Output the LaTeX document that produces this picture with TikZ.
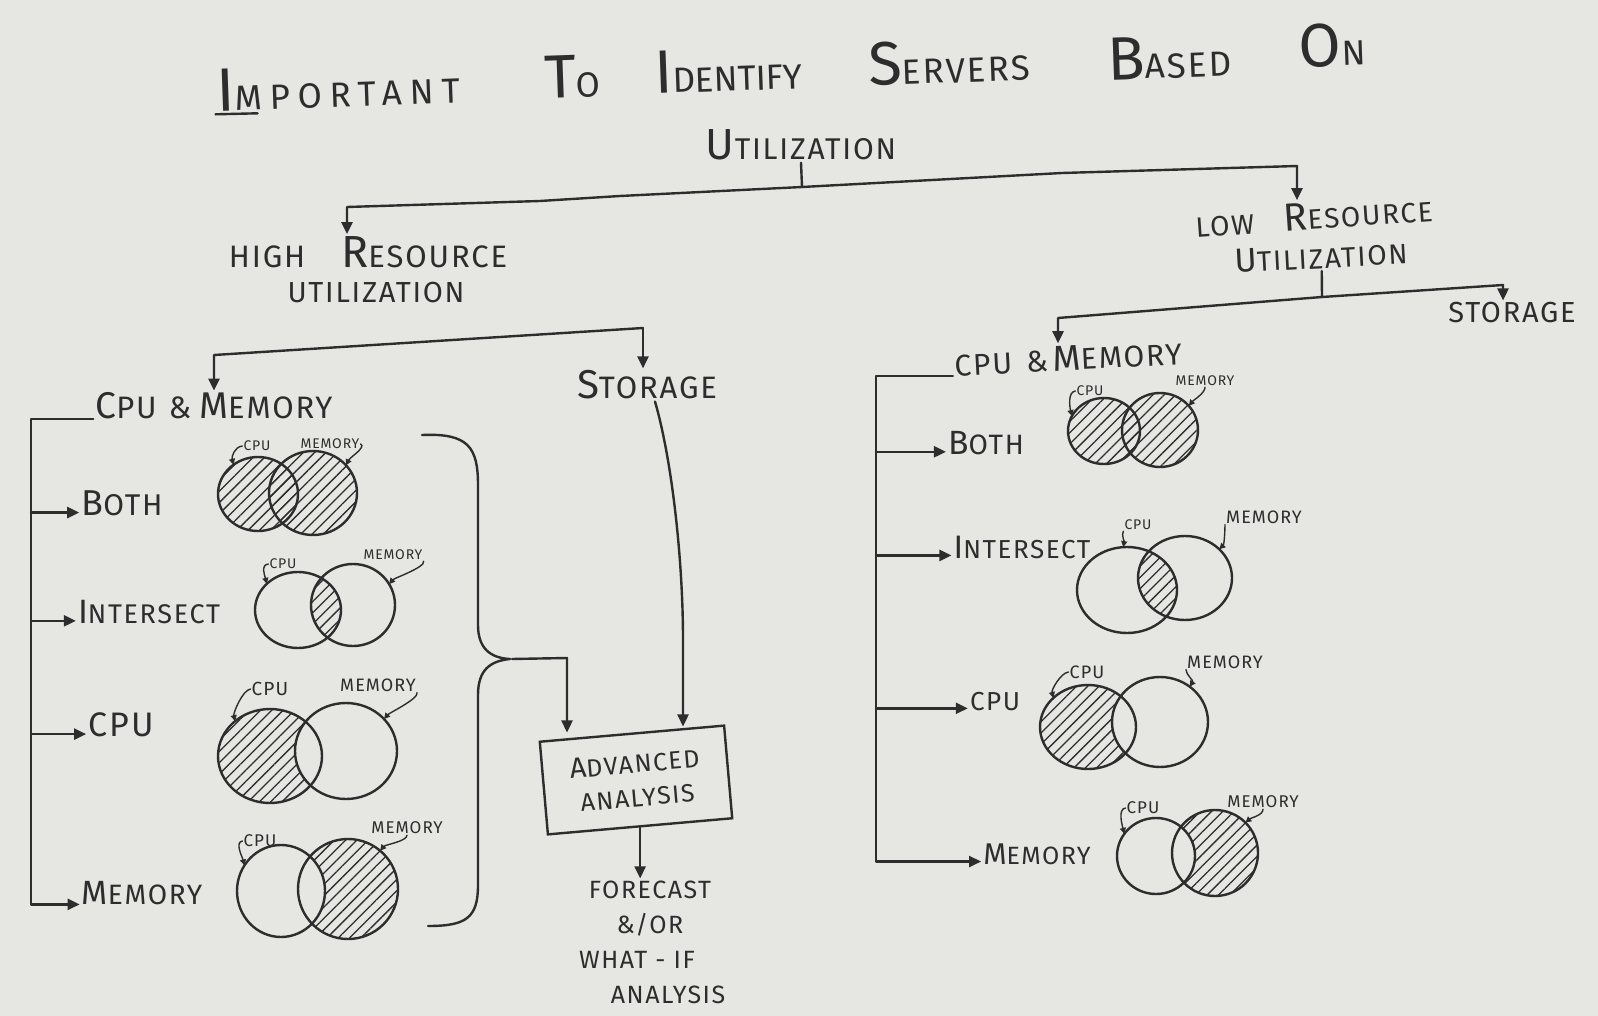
\documentclass[tikz,border=0pt]{standalone}
\usepackage{fontspec}
\setmainfont{Fira Sans}[LetterSpace=6]
\usepackage{graphicx}
\usetikzlibrary{arrows.meta,shapes.geometric,patterns.meta}
\definecolor{paper}{RGB}{230,230,227}
\definecolor{ink}{RGB}{45,45,45}
\newcommand\fsz[1]{\fontsize{#1}{#1}\selectfont}
\newcommand\bigL[2][1.3]{\scalebox{#1}{#2}}
\begin{document}
\begin{tikzpicture}[x=1pt,y=-1pt,
  ink/.style={draw=ink, line width=2.4pt, line cap=round, line join=round},
  arr/.style={ink, -{Triangle[length=12pt,width=11pt]}},
  sarr/.style={draw=ink, line width=1.4pt, line cap=round, -{Triangle[length=6pt,width=6pt]}},
  txt/.style={inner sep=2pt, text=ink},
  lab/.style={txt, inner sep=1pt},
  venn/.style={ellipse, draw=ink, line width=2.4pt, inner sep=0pt, outer sep=0pt},
  hatch/.style={pattern={Lines[angle=45,distance=8pt,line width=1.3pt]}, pattern color=ink},
]
\path[use as bounding box, fill=paper] (0,0) rectangle (1598,1016);

% ---------- title ----------
\node[txt, anchor=base, rotate=2, font={\fsz{35}\addfontfeature{LetterSpace=22}}] (tw1) at (339,107) {\bigL[1.75]{I}MPORTANT};
\node[txt, anchor=base, rotate=2, font=\fsz{35}] (tw2) at (573,98) {\bigL[1.75]{T}O};
\node[txt, anchor=base, rotate=2, font={\fsz{35}\addfontfeature{LetterSpace=0}}] (tw3) at (729,91) {\bigL[1.75]{I}DENTIFY};
\node[txt, anchor=base, rotate=2, font=\fsz{35}] (tw4) at (950,83) {\bigL[1.75]{S}ERVERS};
\node[txt, anchor=base, rotate=2, font=\fsz{35}] (tw5) at (1170,78) {\bigL[1.75]{B}ASED};
\node[txt, anchor=base, rotate=2, font=\fsz{35}] (tw6) at (1333,66) {\bigL[1.75]{O}N};
\draw[ink] ([yshift=-3pt]tw1.base west) -- ++(42,-1);
\node[txt, anchor=base, font=\fsz{30}] (util) at (801,160) {\bigL[1.45]{U}TILIZATION};

% ---------- level 2 ----------
\node[txt, font=\fsz{31}] (high1) at (368,252) {HIGH\hspace{36pt}\bigL[1.45]{R}ESOURCE};
\node[txt, font=\fsz{29}] (high2) at (376,293) {UTILIZATION};
\node[txt, font=\fsz{28}, rotate=4] (low1) at (1314,216) {LOW\hspace{30pt}\bigL[1.4]{R}ESOURCE};
\node[txt, font=\fsz{28}, rotate=3] (low2) at (1321,257) {\bigL[1.2]{U}TILIZATION};

\coordinate (t1) at (802,187);
\coordinate (cL) at (347,207);
\coordinate (cR) at (1297,166);
\draw[ink] (util.south) -- (t1);
\draw[arr] (t1) -- (620,196) -- (540,201) -- (cL) -- (cL |- high1.north);
\draw[arr] (t1) -- (1062,173) -- (cR) -- (cR |- low1.north);

% ---------- high branch ----------
\node[txt, font=\fsz{31}] (cmL) at (214,406) {\bigL[1.2]{C}PU\hspace{12pt}\&\hspace{8pt}\bigL[1.2]{M}EMORY};
\node[txt, font=\fsz{31}] (storL) at (647,385) {\bigL[1.3]{S}TORAGE};
\coordinate (hL) at (214,355);
\coordinate (hR) at (643,328);
\draw[arr] (hR) -- (hL) -- (hL |- cmL.north);
\draw[arr] (hR) -- (hR |- storL.north);

\node[txt, font=\fsz{30}] (bothL) at (122,503) {\bigL[1.2]{B}OTH};
\node[txt, font=\fsz{27}] (interL) at (149,612) {\bigL[1.25]{I}NTERSECT};
\node[txt, font=\fsz{34}] (cpuL) at (121,725) {CPU};
\node[txt, font=\fsz{28}] (memL) at (142,893) {\bigL[1.2]{M}EMORY};

\coordinate (bL) at (31,416);
\draw[arr] (cmL.base west) -- (bL |- cmL.base west) -- (bL |- memL.base west) -- (memL.base west);
\draw[arr] (bL |- bothL.mid west) -- (bothL.mid west);
\draw[arr] (bL |- interL.mid west) -- (interL.mid west);
\draw[arr] (bL |- cpuL.mid west) -- (cpuL.mid west);

% left venns: BOTH
\path[hatch] (258,494) ellipse (40 and 37);
\path[hatch] (313,493) ellipse (44 and 42);
\node[venn, minimum width=80, minimum height=74] (vbL) at (258,494) {};
\node[venn, minimum width=88, minimum height=84] (vbR) at (313,493) {};
% INTERSECT
\begin{scope}
  \clip (298,610) ellipse (43 and 38);
  \path[hatch] (353,605) ellipse (42 and 41);
\end{scope}
\node[venn, minimum width=86, minimum height=76] (viL) at (298,610) {};
\node[venn, minimum width=84, minimum height=82] (viR) at (353,605) {};
% CPU
\path[hatch] (270,756) ellipse (52 and 47);
\begin{scope}
  \clip (270,756) ellipse (52 and 47);
  \fill[paper] (346,751) ellipse (51 and 48);
\end{scope}
\node[venn, minimum width=104, minimum height=94] (vcL) at (270,756) {};
\node[venn, minimum width=102, minimum height=96] (vcR) at (346,751) {};
% MEMORY
\path[hatch] (348,889) ellipse (50 and 50);
\begin{scope}
  \clip (348,889) ellipse (50 and 50);
  \fill[paper] (281,891) ellipse (44 and 46);
\end{scope}
\node[venn, minimum width=88, minimum height=92] (vmL) at (281,891) {};
\node[venn, minimum width=100, minimum height=100] (vmR) at (348,889) {};

\node[lab, font=\fsz{14}] (lb1) at (257,446) {CPU};
\node[lab, font=\fsz{14}] (lb2) at (330,444) {MEMORY};
\node[lab, font=\fsz{14}] (li1) at (283,564) {CPU};
\node[lab, font=\fsz{14}] (li2) at (393,555) {MEMORY};
\node[lab, font=\fsz{19}] (lc1) at (270,689) {CPU};
\node[lab, font=\fsz{18}] (lc2) at (378,685) {MEMORY};
\node[lab, font=\fsz{17}] (lm1) at (260,841) {CPU};
\node[lab, font=\fsz{17}] (lm2) at (407,828) {MEMORY};
\draw[sarr] (lb1.west) .. controls +(-8,1) and +(-2,-8) .. (vbL.130);
\draw[sarr] (lb2.east) .. controls +(6,3) and +(4,-8) .. (vbR.40);
\draw[sarr] (li1.west) .. controls +(-8,1) and +(-2,-8) .. (viL.140);
\draw[sarr] (li2.south east) .. controls +(2,6) and +(5,-6) .. (viR.30);
\draw[sarr] (lc1.west) .. controls +(-8,1) and +(-2,-8) .. (vcL.135);
\draw[sarr] (lc2.south east) .. controls +(2,6) and +(5,-6) .. (vcR.40);
\draw[sarr] (lm1.west) .. controls +(-8,1) and +(-2,-8) .. (vmL.145);
\draw[sarr] (lm2.south) .. controls +(0,6) and +(5,-6) .. (vmR.50);

% brace and advanced analysis
\draw[ink] (422,435) .. controls (468,433) and (478,447) .. (478,485) -- (478,625)
  .. controls (478,648) and (490,658) .. (510,659)
  .. controls (490,661) and (478,670) .. (478,695) -- (478,885)
  .. controls (478,918) and (466,926) .. (428,926);
\node[txt, draw=ink, line width=2.4pt, rotate=5, minimum width=185, minimum height=93, align=center,
  font={\fontsize{25}{34}\selectfont}] (adv) at (636,780) {\bigL[1.15]{A}DVANCED\\ANALYSIS};
\node[txt, align=center, font={\fontsize{25}{35}\selectfont}] (fc) at (650,942)
  {FORECAST\\\&/OR\\WHAT - IF\rule{26pt}{0pt}\\\rule{36pt}{0pt}ANALYSIS};
\coordinate (bt) at (512,659);
\coordinate (bk) at (567,658);
\draw[arr] (bt) -- (bk) -- (bk |- adv.north);
\coordinate (sa) at (683,640);
\draw[arr] ([xshift=8pt]storL.south) .. controls (672,460) and (683,560) .. (sa) -- ([yshift=6pt]sa |- adv.north);
\draw[arr] (adv.south) -- (adv.south |- fc.north);

% ---------- low branch ----------
\node[txt, font=\fsz{30}, rotate=3] (cmR) at (1068,358) {CPU\hspace{14pt}\&\,\bigL[1.2]{M}EMORY};
\node[txt, font=\fsz{29}] (storR) at (1512,313) {STORAGE};
\coordinate (l1) at (1322,297);
\coordinate (lL) at (1058,318);
\coordinate (lR) at (1503,285);
\draw[ink] (low2.south) -- (l1);
\draw[arr] (l1) -- (lL) -- (lL |- cmR.north);
\draw[arr] (l1) -- (lR) -- (lR |- storR.north);

\node[txt, font=\fsz{28}] (bothR) at (986,443) {\bigL[1.2]{B}OTH};
\node[txt, font=\fsz{26}] (interR) at (1022,547) {\bigL[1.25]{I}NTERSECT};
\node[txt, font=\fsz{26}] (cpuR) at (995,702) {CPU};
\node[txt, font=\fsz{25}] (memR) at (1037,854) {\bigL[1.2]{M}EMORY};

\coordinate (bR) at (876,371);
\draw[arr] (cmR.base west) -- (bR |- cmR.base west) -- (bR |- memR.mid west) -- (memR.mid west);
\draw[arr] (bR |- bothR.mid west) -- (bothR.mid west);
\draw[arr] (bR |- interR.mid west) -- (interR.mid west);
\draw[arr] (bR |- cpuR.mid west) -- (cpuR.mid west);

% right venns: BOTH
\path[hatch] (1104,431) ellipse (36 and 33);
\path[hatch] (1160,430) ellipse (38 and 37);
\node[venn, minimum width=72, minimum height=66] (wbL) at (1104,431) {};
\node[venn, minimum width=76, minimum height=74] (wbR) at (1160,430) {};
% INTERSECT
\begin{scope}
  \clip (1127,590) ellipse (50 and 43);
  \path[hatch] (1185,578) ellipse (47 and 42);
\end{scope}
\node[venn, minimum width=100, minimum height=86] (wiL) at (1127,590) {};
\node[venn, minimum width=94, minimum height=84] (wiR) at (1185,578) {};
% CPU
\path[hatch] (1088,727) ellipse (48 and 42);
\begin{scope}
  \clip (1088,727) ellipse (48 and 42);
  \fill[paper] (1160,722) ellipse (48 and 45);
\end{scope}
\node[venn, minimum width=96, minimum height=84] (wcL) at (1088,727) {};
\node[venn, minimum width=96, minimum height=90] (wcR) at (1160,722) {};
% MEMORY
\path[hatch] (1215,853) ellipse (43 and 43);
\begin{scope}
  \clip (1215,853) ellipse (43 and 43);
  \fill[paper] (1156,856) ellipse (39 and 38);
\end{scope}
\node[venn, minimum width=78, minimum height=76] (wmL) at (1156,856) {};
\node[venn, minimum width=86, minimum height=86] (wmR) at (1215,853) {};

\node[lab, font=\fsz{14}] (rb1) at (1090,391) {CPU};
\node[lab, font=\fsz{14}] (rb2) at (1205,381) {MEMORY};
\node[lab, font=\fsz{14}] (ri1) at (1138,525) {CPU};
\node[lab, font=\fsz{18}] (ri2) at (1264,517) {MEMORY};
\node[lab, font=\fsz{18}] (rc1) at (1087,672) {CPU};
\node[lab, font=\fsz{18}] (rc2) at (1225,662) {MEMORY};
\node[lab, font=\fsz{17}] (rm1) at (1143,808) {CPU};
\node[lab, font=\fsz{17}] (rm2) at (1263,802) {MEMORY};
\draw[sarr] (rb1.west) .. controls +(-8,1) and +(-2,-8) .. (wbL.155);
\draw[sarr] (rb2.south) .. controls +(0,6) and +(5,-6) .. (wbR.40);
\draw[sarr] (ri1.south west) .. controls +(-2,4) and +(1,-6) .. (wiL.95);
\draw[sarr] (ri2.south west) .. controls +(0,5) and +(5,-5) .. (wiR.40);
\draw[sarr] (rc1.west) .. controls +(-8,1) and +(-2,-8) .. (wcL.140);
\draw[sarr] (rc2.south west) .. controls +(0,5) and +(4,-6) .. (wcR.50);
\draw[sarr] (rm1.west) .. controls +(-8,1) and +(-2,-8) .. (wmL.145);
\draw[sarr] (rm2.south) .. controls +(0,6) and +(6,-5) .. (wmR.45);
\end{tikzpicture}
\end{document}
